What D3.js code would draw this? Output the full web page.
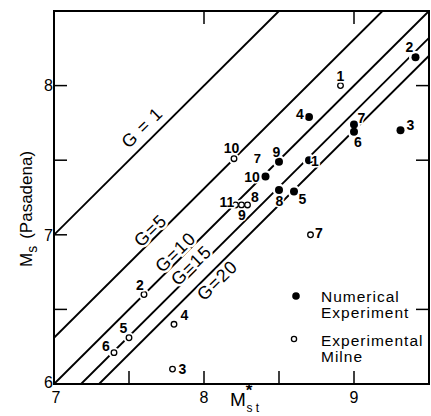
<!DOCTYPE html>
<html>
<head>
<meta charset="utf-8">
<script src="https://cdnjs.cloudflare.com/ajax/libs/d3/7.8.5/d3.min.js"></script>
<style>
body { margin: 0; background: #fff; }
svg { display: block; }
text { font-family: "Liberation Sans", Arial, sans-serif; fill: #000; }
</style>
</head>
<body>
<div id="chart"></div>
<script>
// numerical experiment (filled dots)
var numLabels = ["1", "2", "3", "4", "5", "6", "7", "8", "9", "10"];
var numX = [8.70, 9.41, 9.31, 8.70, 8.60, 9.00, 9.00, 8.50, 8.50, 8.41];
var numY = [7.50, 8.19, 7.70, 7.79, 7.29, 7.69, 7.74, 7.30, 7.49, 7.39];

// experimental, Milne (open circles)
var milLabels = ["1", "2", "3", "4", "5", "6", "7", "8", "9", "10", "11"];
var milX = [8.91, 7.60, 7.79, 7.80, 7.50, 7.40, 8.71, 8.29, 8.25, 8.20, 8.21];
var milY = [8.00, 6.60, 6.10, 6.40, 6.31, 6.21, 7.00, 7.20, 7.20, 7.51, 7.20];

// lines of constant G :  Ms = Ms* + offset
var gNames = ["G = 1", "G=5", "G=10", "G=15", "G=20"];
var gOffsets = [0, -0.69, -1.0, -1.18, -1.30];
// where each G label sits (data coords)
var gLabelX = [7.586, 7.641, 7.808, 7.913, 8.087];
var gLabelY = [7.721, 7.030, 6.885, 6.796, 6.696];

var xTicks = [7, 7.5, 8, 8.5, 9];
var xTickLabels = [7, 8, 9];
var yTicks = [6.5, 7, 7.5, 8];
var yTickLabels = [6, 7, 8];
var topTicks = [8, 9];
var rightTicks = [6.5, 7.5, 8];

// label offsets in px (label centre relative to point)
var numOff = [[6, 0.5], [-6, -10], [10, -5], [-9, -3], [8.5, 7.5], [4, 10.5], [7.5, -6], [0.5, 11], [-2.5, -10], [-13.5, 0]];
var milOff = [[0, -10], [-4, -10], [10, 0], [10.5, -9], [-5.5, -10], [-8, -6.5], [8.5, -1.5], [7.5, -8.5], [0.5, 10], [-2.5, -11], [-8.5, -3.5]];

var W = 431, H = 416;
var x = d3.scaleLinear().domain([7, 9.5]).range([54, 429]);
var y = d3.scaleLinear().domain([6, 8.5]).range([384, 11]);

var svg = d3.select("#chart").append("svg")
    .attr("width", W).attr("height", H);

svg.append("rect").attr("width", W).attr("height", H).attr("fill", "#fff");

// G lines
var line = d3.line().x(function(d){ return x(d[0]); }).y(function(d){ return y(d[1]); });
gOffsets.forEach(function(off){
    var x0 = Math.max(7, 6 - off), x1 = Math.min(9.5, 8.5 - off);
    svg.append("path")
        .attr("d", line([[x0, x0 + off], [x1, x1 + off]]))
        .attr("fill", "none").attr("stroke", "#000").attr("stroke-width", 1.8);
});

// G labels
gNames.forEach(function(t, i){
    svg.append("text")
        .attr("transform", "translate(" + x(gLabelX[i]) + "," + y(gLabelY[i]) + ") rotate(-44.5)")
        .attr("text-anchor", "middle").attr("dy", "0.36em")
        .style("font-size", "18px").style("letter-spacing", "1px")
        .style("stroke", "#fff").style("stroke-width", 5).style("paint-order", "stroke")
        .text(t);
});

// white halos round the points
var numIdx = d3.range(numX.length), milIdx = d3.range(milX.length);
svg.selectAll(".nhalo").data(numIdx).enter().append("circle")
    .attr("cx", function(i){ return x(numX[i]); }).attr("cy", function(i){ return y(numY[i]); })
    .attr("r", 6.5).attr("fill", "#fff");
svg.selectAll(".mhalo").data(milIdx).enter().append("circle")
    .attr("cx", function(i){ return x(milX[i]); }).attr("cy", function(i){ return y(milY[i]); })
    .attr("r", 5.5).attr("fill", "#fff");

svg.selectAll(".num").data(numIdx).enter().append("circle")
    .attr("cx", function(i){ return x(numX[i]); }).attr("cy", function(i){ return y(numY[i]); })
    .attr("r", 4).attr("fill", "#000");
svg.selectAll(".mil").data(milIdx).enter().append("circle")
    .attr("cx", function(i){ return x(milX[i]); }).attr("cy", function(i){ return y(milY[i]); })
    .attr("r", 2.8).attr("fill", "#fff").attr("stroke", "#000").attr("stroke-width", 1.3);

function ptLabel(sel, xs, ys, labs, off){
    sel.enter().append("text")
        .attr("x", function(i){ return x(xs[i]) + off[i][0]; })
        .attr("y", function(i){ return y(ys[i]) + off[i][1]; })
        .attr("dy", "0.36em").attr("text-anchor", "middle")
        .style("font-size", "14px").style("font-weight", "bold")
        .style("stroke", "#fff").style("stroke-width", 3).style("paint-order", "stroke")
        .text(function(i){ return labs[i]; });
}
ptLabel(svg.selectAll(".nl").data(numIdx), numX, numY, numLabels, numOff);
ptLabel(svg.selectAll(".ml").data(milIdx), milX, milY, milLabels, milOff);

// stray "7" above numerical point 10
svg.append("text").attr("x", x(8.355)).attr("y", y(7.51)).attr("dy", "0.36em")
    .attr("text-anchor", "middle").style("font-size", "13px").style("font-weight", "bold")
    .text("7");

// frame and ticks
svg.append("rect").attr("x", x(7)).attr("y", y(8.5))
    .attr("width", x(9.5) - x(7)).attr("height", y(6) - y(8.5))
    .attr("fill", "none").attr("stroke", "#000").attr("stroke-width", 2);

var tk = 13;
svg.selectAll(".xt").data(xTicks).enter().append("line")
    .attr("x1", x).attr("x2", x).attr("y1", y(6)).attr("y2", y(6) - tk)
    .attr("stroke", "#000").attr("stroke-width", 1.5);
svg.selectAll(".tt").data(topTicks).enter().append("line")
    .attr("x1", x).attr("x2", x).attr("y1", y(8.5)).attr("y2", y(8.5) + tk)
    .attr("stroke", "#000").attr("stroke-width", 1.5);
svg.selectAll(".yt").data(yTicks).enter().append("line")
    .attr("y1", y).attr("y2", y).attr("x1", x(7)).attr("x2", x(7) + tk)
    .attr("stroke", "#000").attr("stroke-width", 1.5);
svg.selectAll(".rt").data(rightTicks).enter().append("line")
    .attr("y1", y).attr("y2", y).attr("x1", x(9.5)).attr("x2", x(9.5) - tk)
    .attr("stroke", "#000").attr("stroke-width", 1.5);

svg.selectAll(".xl").data(xTickLabels).enter().append("text")
    .attr("x", function(d){ return x(d) + (d === 7 ? 2 : 0); }).attr("y", 403)
    .attr("text-anchor", "middle").style("font-size", "16px")
    .text(function(d){ return d; });
svg.selectAll(".yl").data(yTickLabels).enter().append("text")
    .attr("x", x(7) - 1).attr("y", function(d){ return y(d) - (d === 6 ? 2 : 0); })
    .attr("dy", "0.36em").attr("text-anchor", "end").style("font-size", "16px")
    .text(function(d){ return d; });

// axis titles
var xt = svg.append("text").attr("x", 230).attr("y", 406).style("font-size", "19px");
xt.append("tspan").text("M");
xt.append("tspan").attr("dy", -10).style("font-size", "17px").style("font-weight", "bold").text("*");
xt.append("tspan").attr("dx", -6).attr("dy", 16).style("font-size", "12px").text("s t");

var yt = svg.append("text").attr("transform", "translate(32,267) rotate(-90)")
    .style("font-size", "17px");
yt.append("tspan").text("M");
yt.append("tspan").attr("dy", 5).style("font-size", "14px").text("s");
yt.append("tspan").attr("dx", 7).attr("dy", -5).text("(Pasadena)");

// legend
var lg = svg.append("g").style("font-size", "15.5px").style("letter-spacing", "1px");
lg.append("circle").attr("cx", 296).attr("cy", 296).attr("r", 3.8).attr("fill", "#000");
var l1 = lg.append("text").attr("y", 302);
l1.append("tspan").attr("x", 321).text("Numerical");
l1.append("tspan").attr("x", 321).attr("dy", 16).text("Experiment");
lg.append("circle").attr("cx", 294).attr("cy", 339).attr("r", 2.6)
    .attr("fill", "#fff").attr("stroke", "#000").attr("stroke-width", 1.3);
var l2 = lg.append("text").attr("y", 346);
l2.append("tspan").attr("x", 321).text("Experimental");
l2.append("tspan").attr("x", 321).attr("dy", 16).text("Milne");
</script>
</body>
</html>
